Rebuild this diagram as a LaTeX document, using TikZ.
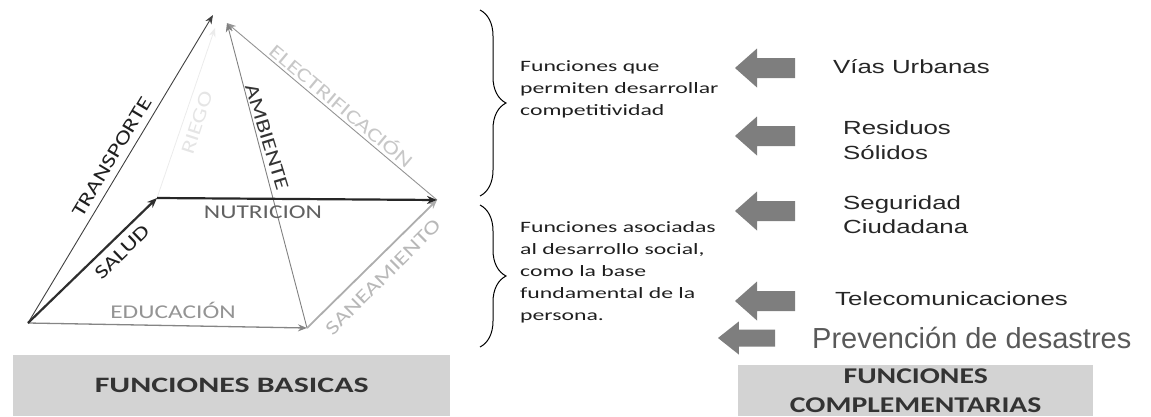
\documentclass[tikz,border=0pt]{standalone}
\usepackage{fontspec}
\setmainfont{Carlito}[FakeStretch=1.5]
\newfontfamily\lblf{Carlito}[FakeStretch=1.3]
\newfontfamily\boxf{Carlito}[FakeStretch=1.45]
\newfontfamily\boxr{Carlito}[FakeStretch=1.32]
\newfontfamily\arf{Liberation Sans}[FakeStretch=1.36]
\newfontfamily\arn{Liberation Sans}
\usetikzlibrary{arrows.meta,decorations.pathreplacing}
\definecolor{boxgray}{HTML}{D3D3D3}
\definecolor{arrgray}{HTML}{7E7E7E}
\tikzset{
  lbl/.style={inner sep=0pt, font=\lblf\fontsize{19.5}{19.5}\selectfont},
  tip/.style={-{Stealth[length=9pt,width=7pt]}},
  small/.style={inner sep=0pt, align=left, text=black!88, font=\fontsize{15.8}{22}\selectfont},
  right/.style={inner sep=0pt, align=left, text=black!85, font=\arf\fontsize{19}{24.5}\selectfont},
  boxnode/.style={fill=boxgray, inner sep=0pt, anchor=north west, text=black!80, align=center},
  bracestyle/.style={decorate, decoration={brace, amplitude=26pt}, line width=1pt},
  larr/.pic={\fill[arrgray] (0,0) -- (22,-19.5) -- (22,-10) -- (60,-10) -- (60,10) -- (22,10) -- (22,19.5) -- cycle;}
}
\begin{document}
\begin{tikzpicture}[x=1pt,y=-1pt]
\useasboundingbox (0,0) rectangle (1151,416);
% pyramid vertices
\coordinate (A) at (28,323);
\coordinate (B) at (157,198);
\coordinate (C) at (437,200);
\coordinate (D) at (307,328);
\coordinate (T1) at (213,15);
\coordinate (T2) at (227,23);
\coordinate (T3) at (215,28);
% edges
\draw[tip, color=black!8, line width=0.8pt] (B) -- (T3);
\draw[tip, color=black!42, line width=0.9pt] (C) -- (T2);
\draw[tip, color=black!50, line width=0.9pt] (D) -- (T2);
\draw[tip, color=black!75, line width=0.9pt] (A) -- (T1);
\draw[tip, color=black!48, line width=1.3pt] (A) -- (D);
\draw[tip, color=black!32, line width=1.8pt] (D) -- (C);
\draw[-{Stealth[length=10pt,width=8pt]}, color=black!82, line width=2.2pt] (A) -- (B);
\draw[-{Stealth[length=10pt,width=8pt]}, color=black!85, line width=2.2pt] (B) -- (C);
% labels
\node[lbl, text=black!88, rotate=59] (ltr) at (112,157) {TRANSPORTE};
\node[lbl, text=black!10, rotate=72] (lri) at (197,123) {RIEGO};
\node[lbl, text=black!80, rotate=-73] (lam) at (267,137) {AMBIENTE};
\node[lbl, text=black!22, rotate=-40] (lel) at (342,105) {ELECTRIFICACIÓN};
\node[lbl, text=black!62] (lnu) at (263,212) {NUTRICION};
\node[lbl, text=black!88, rotate=44] (lsa) at (122,252) {SALUD};
\node[lbl, text=black!42] (led) at (173,310) {EDUCACIÓN};
\node[lbl, text=black!28, rotate=45] (lsn) at (383,277) {SANEAMIENTO};
% boxes
\node[boxnode, minimum width=437pt, minimum height=61pt, font=\boxf\bfseries\fontsize{22}{22}\selectfont] (fb) at (13,355) {FUNCIONES BASICAS};
\node[boxnode, minimum width=355pt, minimum height=51pt, font=\boxr\bfseries\fontsize{22.5}{29}\selectfont] (fc) at (738,365) {FUNCIONES\\COMPLEMENTARIAS};
% braces
\coordinate (b1t) at (480,10);
\coordinate (b1b) at (480,196);
\coordinate (b2t) at (480,205);
\coordinate (b2b) at (480,347);
\draw[bracestyle] (b1t) -- (b1b);
\draw[bracestyle] (b2t) -- (b2b);
% brace texts
\node[small, anchor=west] (t1) at (520,89) {Funciones que\\permiten desarrollar\\competitividad};
\node[small, anchor=west] (t2) at (520,272) {Funciones asociadas\\al desarrollo social,\\como la base\\fundamental de la\\persona.};
% block arrows
\pic (a1) at (735,68) {larr};
\pic (a2) at (735,136) {larr};
\pic (a3) at (735,211) {larr};
\pic (a4) at (735,301) {larr};
\pic[xscale=0.95, yscale=0.85] (a5) at (718,338) {larr};
% right texts
\node[right, anchor=west] (r1) at (833,67) {Vías Urbanas};
\node[right, anchor=west] (r2) at (843,140) {Residuos\\Sólidos};
\node[right, anchor=west] (r3) at (843,214.5) {Seguridad\\Ciudadana};
\node[right, anchor=west] (r4) at (835,299) {Telecomunicaciones};
\node[inner sep=0pt, anchor=west, text=black!65, font=\arn\fontsize{29}{29}\selectfont] (r5) at (812,338) {Prevención de desastres};
\end{tikzpicture}
\end{document}
